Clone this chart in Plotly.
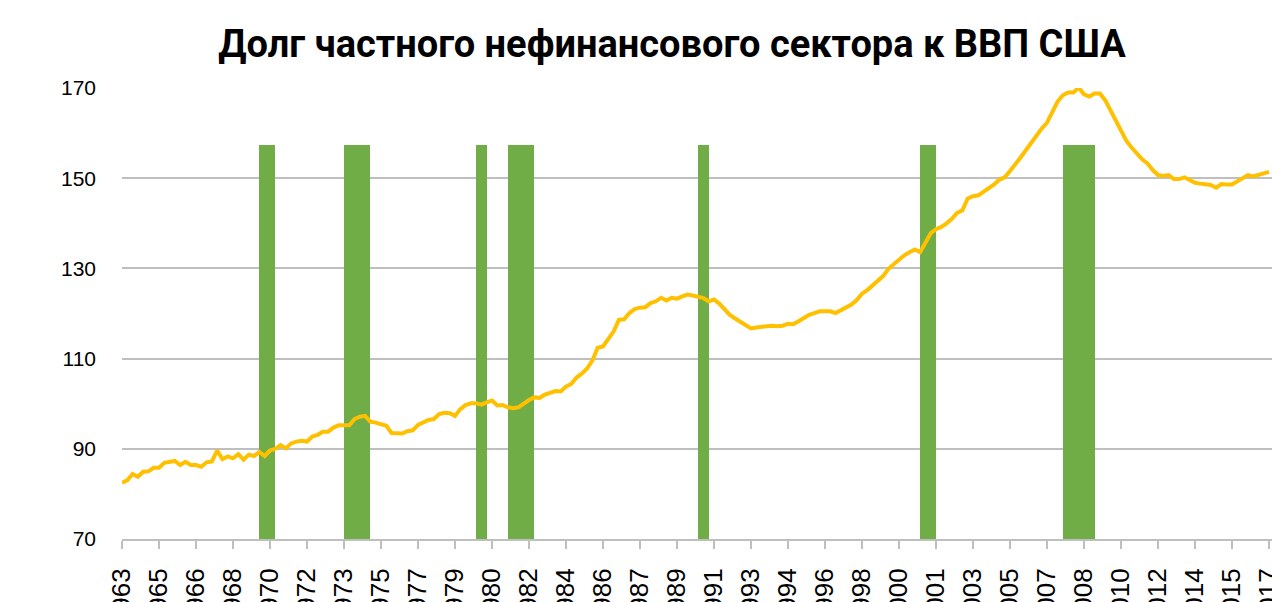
import plotly.graph_objects as go

# Quarterly data, starting 1963Q2
start_year, start_q = 1963, 2
debt_to_gdp = [
    82.5, 83.0, 84.4, 83.8, 84.9, 85.0, 85.8, 85.8, 86.9, 87.0,
    87.3, 86.4, 87.1, 86.4, 86.4, 86.0, 87.0, 87.2, 89.6, 87.7,
    88.3, 87.9, 88.8, 87.6, 88.7, 88.4, 89.3, 88.4, 89.6, 90.0,
    90.8, 90.1, 91.2, 91.6, 91.8, 91.6, 92.7, 93.1, 93.8, 93.8,
    94.7, 95.2, 95.2, 95.2, 96.6, 97.1, 97.3, 96.0, 95.8, 95.4,
    95.1, 93.5, 93.4, 93.4, 93.9, 94.1, 95.3, 95.8, 96.4, 96.6,
    97.7, 98.0, 97.9, 97.3, 98.8, 99.7, 100.1, 100.1, 99.8, 100.3,
    100.7, 99.6, 99.7, 99.2, 99.0, 99.2, 100.1, 100.8, 101.4, 101.3,
    102.0, 102.4, 102.8, 102.7, 103.8, 104.4, 105.8, 106.7, 107.8, 109.6,
    112.4, 112.7, 114.2, 116.0, 118.6, 118.7, 120.1, 121.0, 121.3, 121.4,
    122.3, 122.7, 123.5, 122.9, 123.5, 123.3, 123.8, 124.2, 124.0, 123.7,
    123.4, 122.7, 123.1, 122.2, 121.0, 119.7, 118.9, 118.2, 117.3, 116.7,
    116.9, 117.1, 117.3, 117.3, 117.2, 117.3, 117.7, 117.6, 118.3, 119.0,
    119.7, 120.1, 120.5, 120.5, 120.5, 120.1, 120.8, 121.4, 122.0, 123.0,
    124.4, 125.2, 126.2, 127.3, 128.3, 129.9, 130.9, 132.0, 132.9, 133.6,
    134.2, 133.6, 135.8, 137.8, 138.7, 139.2, 140.0, 141.0, 142.3, 142.9,
    145.5, 146.0, 146.2, 147.0, 147.8, 148.6, 149.7, 150.2, 151.6, 153.0,
    154.6, 156.2, 157.8, 159.6, 161.0, 162.3, 164.7, 167.0, 168.4, 169.0,
    169.0, 170.1, 168.6, 168.1, 168.8, 168.8, 167.3, 165.1, 162.5, 160.7,
    158.3, 156.8, 155.4, 154.2, 153.3, 151.8, 150.7, 150.5, 150.7, 149.8,
    149.8, 150.2, 149.6, 149.0, 148.8, 148.7, 148.5, 147.9, 148.7, 148.6,
    148.6, 149.3, 150.0, 150.7, 150.4, 150.8, 151.1, 151.4,
]

# US recessions (peak quarter -> trough quarter)
recession_start = ["1969Q4", "1973Q4", "1980Q1", "1981Q3", "1990Q3", "2001Q1", "2007Q4"]
recession_end = ["1970Q3", "1975Q1", "1980Q3", "1982Q4", "1991Q1", "2001Q4", "2009Q2"]
recession_height = 157.3

tick_labels = ["1963", "1965", "1966", "1968", "1970", "1972", "1973", "1975",
               "1977", "1979", "1980", "1982", "1984", "1986", "1987", "1989",
               "1991", "1993", "1994", "1996", "1998", "2000", "2001", "2003",
               "2005", "2007", "2008", "2010", "2012", "2014", "2015", "2017"]
tick_step = 7  # one label every 7 quarters

title = "Долг частного нефинансового сектора к ВВП США"


def q_index(label):
    y, q = int(label[:4]), int(label[-1])
    return (y - start_year) * 4 + (q - start_q)


x = list(range(len(debt_to_gdp)))
rs = [q_index(s) for s in recession_start]
re_ = [q_index(e) for e in recession_end]

fig = go.Figure()
fig.add_trace(go.Bar(
    x=[(a + b) / 2 for a, b in zip(rs, re_)],
    y=[recession_height] * len(rs),
    width=[b - a for a, b in zip(rs, re_)],
    marker=dict(color="#70AD47", line=dict(width=0)),
    showlegend=False,
    hoverinfo="skip",
))
fig.add_trace(go.Scatter(
    x=x, y=debt_to_gdp, mode="lines",
    line=dict(color="#FFC000", width=4),
    showlegend=False,
))

fig.update_layout(
    width=1272, height=602,
    margin=dict(l=122, r=0, t=88, b=63),
    paper_bgcolor="white", plot_bgcolor="white",
    title=dict(
        text="<b>" + title + "</b>",
        x=0.5283, xanchor="center", y=0.927, yanchor="middle",
        font=dict(family="Roboto, sans-serif", size=38, color="black"),
    ),
    xaxis=dict(
        range=[0, (1272 - 122) / (37.0 / 7)],
        tickmode="array",
        tickvals=list(range(0, len(debt_to_gdp), tick_step))[:len(tick_labels)],
        ticktext=tick_labels,
        tickangle=-90,
        ticks="outside", ticklen=8, tickwidth=2, tickcolor="#BFBFBF",
        showline=True, linecolor="#BFBFBF", linewidth=2,
        showgrid=False, zeroline=False, automargin=False,
        ticklabelstandoff=9, ticklabeloverflow="allow",
        tickfont=dict(family="Liberation Sans, Arial, sans-serif", size=26, color="black"),
    ),
    yaxis=dict(
        range=[70, 170],
        tickvals=[70, 90, 110, 130, 150, 170],
        showgrid=True, gridcolor="#BFBFBF", gridwidth=2,
        zeroline=False, showline=False, automargin=False,
        ticks="", ticklabelstandoff=25,
        tickfont=dict(family="Liberation Sans, Arial, sans-serif", size=21, color="black"),
    ),
    bargap=0,
)

# remove the browser's default page margin so the figure fills the window exactly
fig.write_html(
    "out.html",
    config={"displayModeBar": False},
    post_script="document.body.style.margin='0';document.body.style.overflow='hidden';",
)
